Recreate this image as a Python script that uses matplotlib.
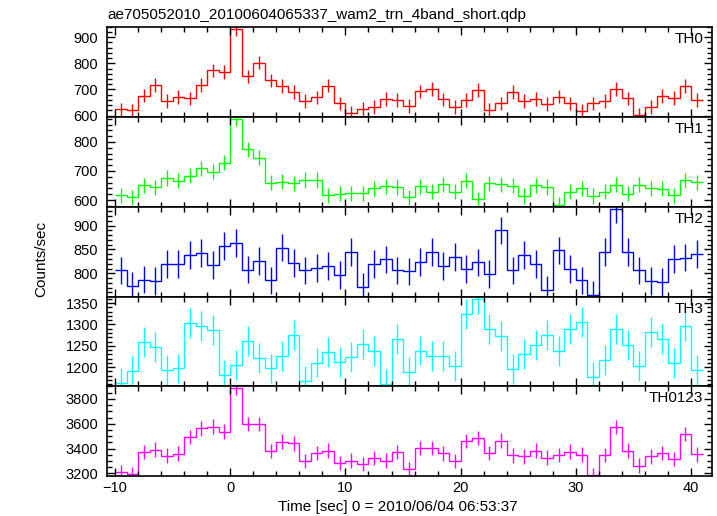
import numpy as np
import matplotlib.pyplot as plt
from matplotlib.ticker import MultipleLocator

plt.rcParams['font.family'] = ['Liberation Sans', 'DejaVu Sans']

# 1 s bins from -10 to 41 s
bin_edges = np.arange(-10, 42)

th0 = [624, 620, 677, 717, 655, 671, 666, 717, 773, 768,
       931, 750, 803, 735, 714, 690, 657, 670, 715, 647,
       609, 625, 632, 664, 659, 636, 693, 703, 662, 633,
       660, 697, 622, 647, 690, 656, 664, 645, 673, 647,
       619, 647, 657, 702, 666, 602, 634, 675, 668, 714, 659]
th1 = [616, 609, 651, 644, 676, 666, 683, 709, 697, 728,
       880, 775, 746, 659, 663, 657, 669, 669, 616, 622,
       624, 624, 641, 647, 645, 609, 648, 628, 655, 628,
       667, 603, 657, 654, 649, 614, 651, 645, 583, 628,
       640, 614, 628, 652, 621, 653, 641, 639, 617, 668, 661]
th2 = [806, 774, 787, 784, 820, 820, 838, 842, 817, 857,
       864, 808, 826, 785, 854, 822, 806, 811, 816, 796,
       845, 771, 819, 829, 806, 804, 824, 845, 815, 834,
       809, 823, 798, 890, 806, 838, 820, 766, 848, 809,
       785, 755, 845, 935, 845, 806, 784, 782, 830, 833, 841]
th3 = [1162, 1191, 1259, 1248, 1194, 1197, 1303, 1297, 1287, 1181,
       1205, 1261, 1221, 1197, 1226, 1275, 1167, 1211, 1235, 1212,
       1223, 1254, 1237, 1160, 1266, 1189, 1239, 1226, 1226, 1202,
       1325, 1360, 1289, 1273, 1195, 1231, 1251, 1276, 1238, 1289,
       1305, 1177, 1216, 1289, 1252, 1202, 1282, 1266, 1209, 1296, 1193]
th0123 = [3208, 3192, 3372, 3391, 3343, 3359, 3491, 3563, 3577, 3536,
          3886, 3598, 3598, 3378, 3456, 3442, 3300, 3364, 3383, 3283,
          3302, 3273, 3324, 3302, 3372, 3235, 3402, 3402, 3361, 3300,
          3461, 3483, 3364, 3464, 3345, 3337, 3383, 3327, 3348, 3375,
          3351, 3189, 3348, 3574, 3383, 3262, 3337, 3364, 3318, 3515, 3353]

series = [th0, th1, th2, th3, th0123]
names = ['TH0', 'TH1', 'TH2', 'TH3', 'TH0123']
# typical 1-sigma error per band
errors = [26, 26, 29, 35, 58]
colors = ['#ff0000', '#00ff00', '#0000ff', '#00ffff', '#ff00ff']
ylims = [(596, 940), (576, 887), (751, 939), (1156, 1365), (3181, 3904)]
major_steps = [100, 100, 50, 50, 200]
minor_steps = [20, 20, 10, 10, 50]

W, H = 717, 516
fig = plt.figure(figsize=(W / 100, H / 100), dpi=100)

left, right = 106.7, 711.5
panel_px = [26.7, 116.7, 207.0, 296.7, 386.0, 475.7]

centers = (bin_edges[:-1] + bin_edges[1:]) / 2
axes = []
for i, (vals, name, err, col) in enumerate(zip(series, names, errors, colors)):
    top, bot = panel_px[i], panel_px[i + 1]
    ax = fig.add_axes([left / W, 1 - bot / H, (right - left) / W, (bot - top) / H])
    axes.append(ax)
    vals = np.array(vals)
    ax.stairs(vals, bin_edges, baseline=None, color=col, lw=1.0)
    ax.errorbar(centers, vals, yerr=err, fmt='none', ecolor=col, elinewidth=1.0, capsize=0)
    ax.set_xlim(-10.72, 41.77)
    ax.set_ylim(*ylims[i])
    ax.xaxis.set_major_locator(MultipleLocator(10))
    ax.xaxis.set_minor_locator(MultipleLocator(2))
    ax.yaxis.set_major_locator(MultipleLocator(major_steps[i]))
    ax.yaxis.set_minor_locator(MultipleLocator(minor_steps[i]))
    ax.tick_params(which='both', direction='in', top=True, right=True, width=1.0, labelsize=10.5, pad=6)
    ax.tick_params(which='major', length=6)
    ax.tick_params(which='minor', length=3.5)
    for sp in ax.spines.values():
        sp.set_linewidth(1.2)
    if i < 4:
        ax.tick_params(labelbottom=False)
    else:
        ax.tick_params(axis='x', pad=4)
    ax.text(0.986, 0.945, name, transform=ax.transAxes, ha='right', va='top', fontsize=11)

fig.text(107 / W, 1 - 19 / H, 'ae705052010_20100604065337_wam2_trn_4band_short.qdp',
         ha='left', va='baseline', fontsize=11)
fig.text(41.5 / W, 1 - 259 / H, 'Counts/sec', rotation=90, ha='center', va='center', fontsize=11)
fig.text(398 / W, 1 - 511 / H, 'Time [sec] 0 = 2010/06/04 06:53:37', ha='center', va='baseline', fontsize=11)

fig.savefig('out.png', dpi=100)
